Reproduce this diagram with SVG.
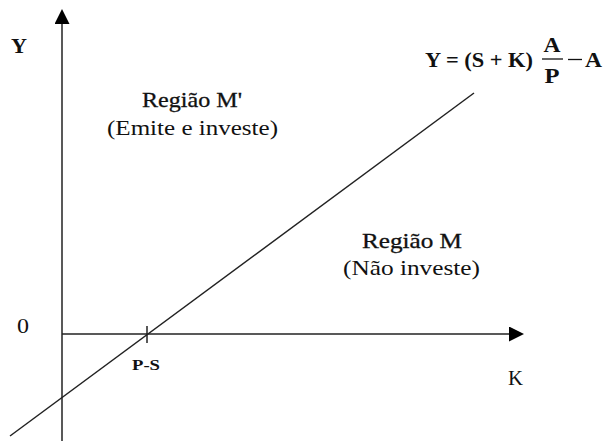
<svg xmlns="http://www.w3.org/2000/svg" width="604" height="441" viewBox="0 0 604 441">
<style>
text{font-family:'Liberation Serif','DejaVu Serif',serif;fill:#111}
.b{font-weight:bold}
.ax{stroke:#222;stroke-width:1.5;fill:none}
</style>
<defs>
<marker id="ah" markerWidth="15" markerHeight="15" refX="0" refY="7.5" orient="auto" markerUnits="userSpaceOnUse">
<path d="M0,0 L15,7.5 L0,15 Z" fill="#000"/>
</marker>
</defs>
<rect width="604" height="441" fill="#fff"/>
<g id="connectors">
<line id="y-axis" class="ax" x1="62" y1="441" x2="62" y2="24" marker-end="url(#ah)"/>
<line id="k-axis" class="ax" x1="62" y1="334" x2="509" y2="334" marker-end="url(#ah)"/>
<line id="line" class="ax" x1="10" y1="436" x2="474" y2="93"/>
<line id="tick" class="ax" x1="147" y1="326" x2="147" y2="343"/>
</g>
<g id="label-Y"><text class="b" x="11" y="53" font-size="22" textLength="16" lengthAdjust="spacingAndGlyphs">Y</text></g>
<g id="label-0"><text x="17" y="333" font-size="20" textLength="12" lengthAdjust="spacingAndGlyphs">0</text></g>
<g id="label-K"><text x="508" y="385" font-size="22" textLength="15" lengthAdjust="spacingAndGlyphs">K</text></g>
<g id="label-PS"><text class="b" x="132" y="370" font-size="15" textLength="28" lengthAdjust="spacingAndGlyphs">P-S</text></g>
<g id="equation">
<text class="b" x="425" y="67" font-size="22" textLength="108" lengthAdjust="spacingAndGlyphs">Y = (S + K)</text>
<text class="b" x="552" y="52" font-size="21" textLength="17" lengthAdjust="spacingAndGlyphs" text-anchor="middle">A</text>
<line x1="542" y1="59" x2="563" y2="59" stroke="#111" stroke-width="1.3"/>
<text class="b" x="552" y="83" font-size="21" textLength="15" lengthAdjust="spacingAndGlyphs" text-anchor="middle">P</text>
<line x1="568" y1="59.5" x2="582" y2="59.5" stroke="#111" stroke-width="1.3"/>
<text class="b" x="585" y="67" font-size="22" textLength="17" lengthAdjust="spacingAndGlyphs">A</text>
</g>
<g id="region-M-prime">
<text x="142" y="107" font-size="21" textLength="100" lengthAdjust="spacingAndGlyphs" stroke="#111" stroke-width="0.3">Região M'</text>
<text x="107" y="135" font-size="21" textLength="171" lengthAdjust="spacingAndGlyphs">(Emite e investe)</text>
</g>
<g id="region-M">
<text x="362" y="248" font-size="21" textLength="100" lengthAdjust="spacingAndGlyphs" stroke="#111" stroke-width="0.3">Região M</text>
<text x="343" y="275" font-size="21" textLength="137" lengthAdjust="spacingAndGlyphs">(Não investe)</text>
</g>
</svg>
